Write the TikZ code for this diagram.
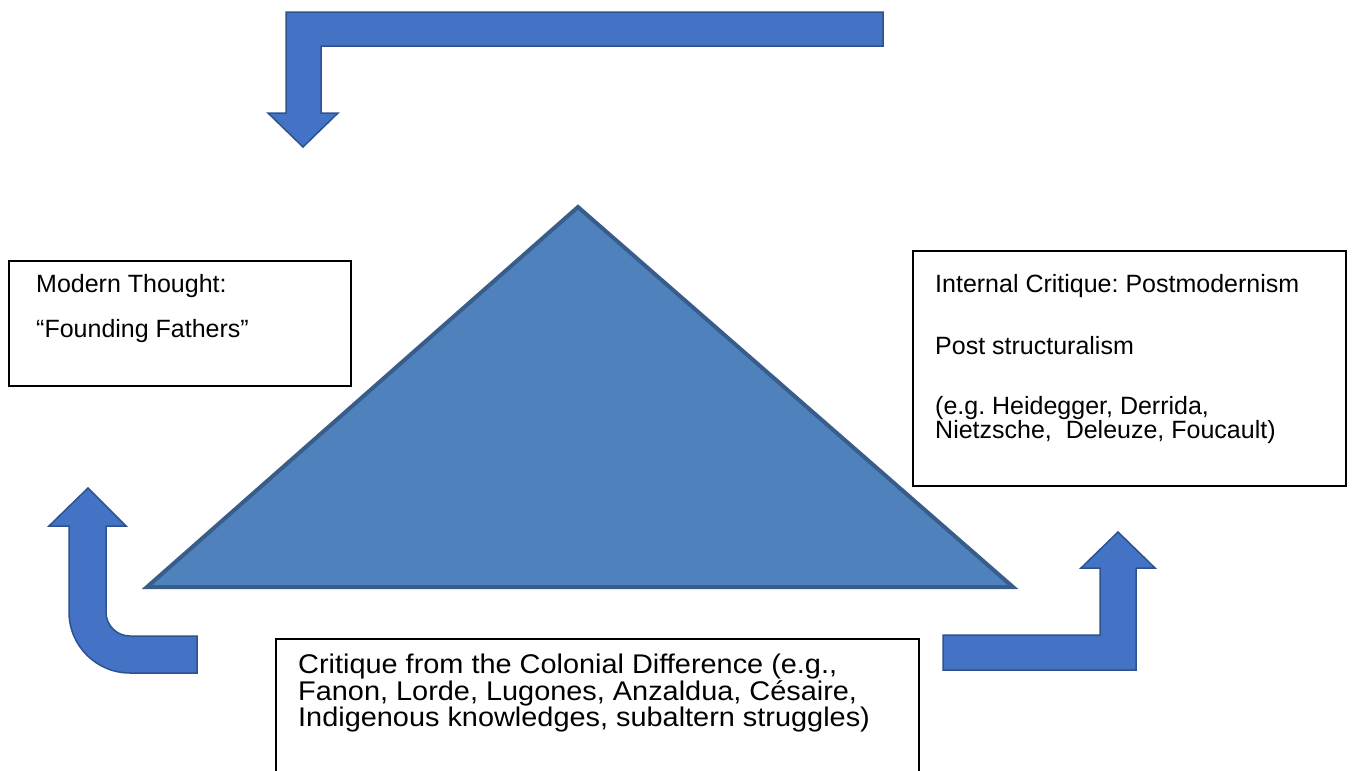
\documentclass[tikz,border=0pt]{standalone}
\usepackage{fontspec}
\setmainfont{Liberation Sans}
\usetikzlibrary{positioning}
\definecolor{arrowblue}{HTML}{4472C4}
\definecolor{arrowedge}{HTML}{2F528F}
\definecolor{triblue}{HTML}{4F81BD}
\definecolor{triedge}{HTML}{385D8A}
\frenchspacing

\begin{document}
\begin{tikzpicture}[x=1pt,y=-1pt,
    blockarrow/.style={fill=arrowblue,draw=arrowedge,line width=1.5pt,line join=miter},
    textbox/.style={draw=black,line width=1.5pt,fill=white,inner sep=0pt,anchor=north west},
    boxtext/.style={anchor=north west,inner sep=0pt,align=left,font=\fontsize{25}{24.5}\selectfont},
    widetext/.style={boxtext,font=\fontsize{27}{24}\selectfont\addfontfeature{FakeStretch=1.07}}]

    \clip (0,0) rectangle (1368,771);
    \fill[white] (0,0) rectangle (1368,771);

    % top arrow
    \draw[blockarrow] (883,12) -- (286,12) -- (286,113) -- (268,113) -- (303,147)
        -- (338,113) -- (321,113) -- (321,46) -- (883,46) -- cycle;

    % triangle
    \draw[fill=triblue,draw=triedge,line width=4pt] (578,207) -- (1013,587) -- (147,587) -- cycle;

    % curved arrow, left
    \draw[blockarrow] (197,636) -- (130,636) .. controls (116.7,636) and (106,625.3) .. (106,612)
        -- (106,526) -- (126,526) -- (88,488) -- (49,526) -- (69,526) -- (69,612)
        .. controls (69,645.7) and (96.3,673) .. (130,673) -- (197,673) -- cycle;

    % bent arrow, right
    \draw[blockarrow] (943,635) -- (1100,635) -- (1100,568) -- (1081,568) -- (1118,532)
        -- (1155,568) -- (1136,568) -- (1136,670) -- (943,670) -- cycle;

    % boxes
    \node[textbox,minimum width=342,minimum height=125] (modernbox) at (8,260) {};
    \node[boxtext] (modern) at (36,274) {Modern Thought:\\[21pt]“Founding Fathers”};

    \node[textbox,minimum width=433,minimum height=235] (internalbox) at (912,250) {};
    \node[boxtext] (internal) at (935,274) {Internal Critique: Postmodernism\\[38pt]Post structuralism\\[35pt](e.g. Heidegger, Derrida,\\Nietzsche,\ \ Deleuze, Foucault)};

    \node[textbox,minimum width=643,minimum height=160] (colonialbox) at (275,638) {};
    \node[widetext] (colonial) at (298,654) {Critique from the Colonial Difference (e.g.,\\Fanon, Lorde, Lugones, Anzaldua, Césaire,\\Indigenous knowledges, subaltern struggles)};
\end{tikzpicture}
\end{document}
